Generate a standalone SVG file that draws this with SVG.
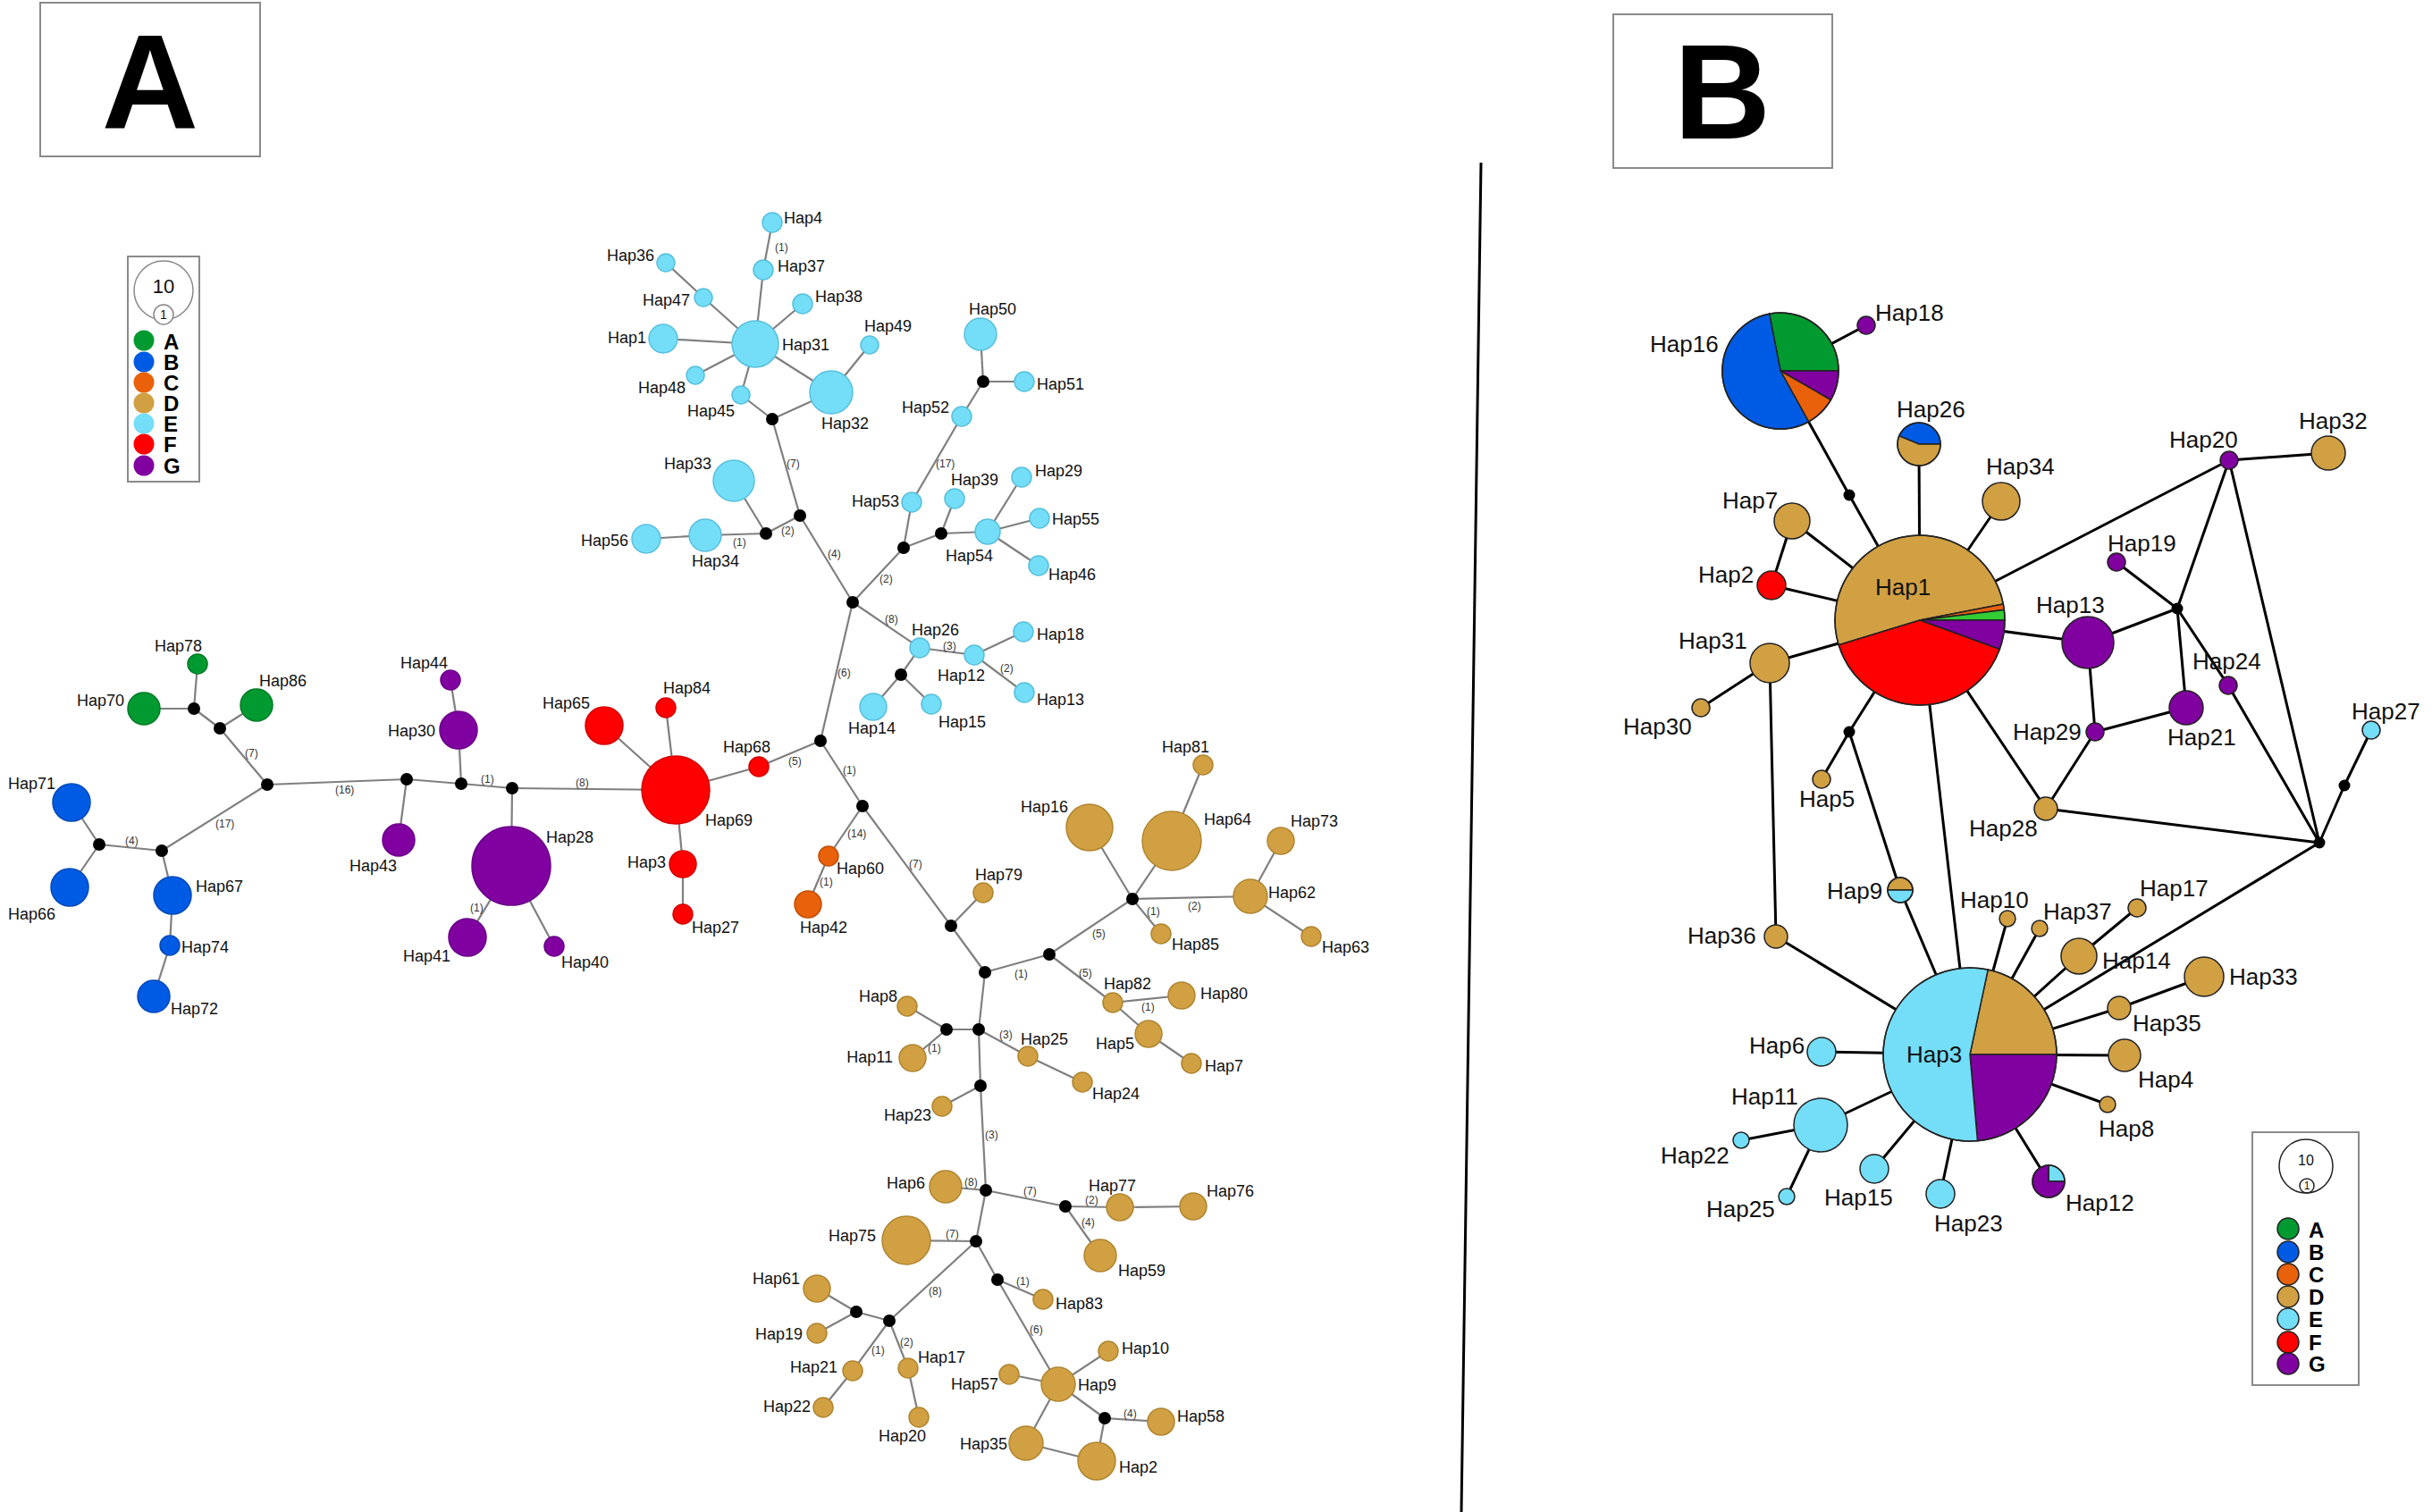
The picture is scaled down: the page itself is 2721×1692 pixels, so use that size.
<svg xmlns="http://www.w3.org/2000/svg" width="2721" height="1692" viewBox="0 0 2721 1692">
<style>
.e line{stroke:#7f7f7f;stroke-width:2.2}
.eb line{stroke:#000;stroke-width:3}
.A{fill:#009A30;stroke:#007a26;stroke-width:1.5}
.B{fill:#005BE4;stroke:#0049b8;stroke-width:1.5}
.C{fill:#E9610A;stroke:#c04e05;stroke-width:1.5}
.D{fill:#D1A043;stroke:#b08530;stroke-width:1.5}
.E{fill:#74DEF9;stroke:#58bfdc;stroke-width:1.5}
.F{fill:#FF0000;stroke:#d40000;stroke-width:1.5}
.G{fill:#8000A0;stroke:#6a0088;stroke-width:1.5}
.J{fill:#000}
.pb circle,.pb path{stroke:#222;stroke-width:1.5}
.pb circle.J{stroke:none}
.ol{fill:none}
text{font-family:"Liberation Sans",Arial,sans-serif;fill:#111;dominant-baseline:central}
.l{font-size:18px}
.lb{font-size:26px}
.m{font-size:12px;fill:#333}
.end{text-anchor:end}
.big{font-size:150px;font-weight:bold;text-anchor:middle;dominant-baseline:auto;fill:#000}
.leg{font-size:24px;font-weight:bold;fill:#000}
.box{fill:#fff;stroke:#8a8a8a;stroke-width:2}
</style>
<rect width="2721" height="1692" fill="#fff"/>

<g id="title-a"><rect class="box" x="45" y="3" width="246" height="172"/><text class="big" x="168" y="143">A</text></g>
<g id="title-b"><rect class="box" x="1805" y="16" width="245" height="172"/><text class="big" x="1927" y="155">B</text></g>
<line id="divider" x1="1657" y1="182" x2="1635" y2="1692" stroke="#000" stroke-width="3"/>

<g id="legend-a">
<rect class="box" x="143" y="287" width="80" height="252"/>
<circle cx="183" cy="325" r="33" fill="none" stroke="#888" stroke-width="1.5"/>
<text x="183" y="320" style="font-size:22px;text-anchor:middle">10</text>
<circle cx="183" cy="352" r="11" fill="#fff" stroke="#888" stroke-width="1.5"/>
<text x="183" y="352" style="font-size:14px;text-anchor:middle">1</text>
<circle cx="161" cy="381" r="11.5" fill="#009A30"/><text class="leg" x="183" y="382">A</text>
<circle cx="161" cy="405" r="11.5" fill="#005BE4"/><text class="leg" x="183" y="405">B</text>
<circle cx="161" cy="428" r="11.5" fill="#E9610A"/><text class="leg" x="183" y="428">C</text>
<circle cx="161" cy="451" r="11.5" fill="#D1A043"/><text class="leg" x="183" y="451">D</text>
<circle cx="161" cy="474" r="11.5" fill="#74DEF9"/><text class="leg" x="183" y="474">E</text>
<circle cx="161" cy="497" r="11.5" fill="#FF0000"/><text class="leg" x="183" y="497">F</text>
<circle cx="161" cy="521" r="11.5" fill="#8000A0"/><text class="leg" x="183" y="521">G</text>
</g>

<g id="legend-b" class="pb">
<rect class="box" x="2520" y="1267" width="119" height="283"/>
<circle class="ol" cx="2580" cy="1305" r="30"/>
<text x="2580" y="1298" style="font-size:16px;text-anchor:middle">10</text>
<circle class="ol" cx="2581" cy="1327" r="8"/>
<text x="2581" y="1327" style="font-size:12px;text-anchor:middle">1</text>
<circle cx="2560" cy="1375" r="12" fill="#009A30"/><text class="leg" x="2583" y="1376">A</text>
<circle cx="2560" cy="1401" r="12" fill="#005BE4"/><text class="leg" x="2583" y="1401">B</text>
<circle cx="2560" cy="1426" r="12" fill="#E9610A"/><text class="leg" x="2583" y="1426">C</text>
<circle cx="2560" cy="1451" r="12" fill="#D1A043"/><text class="leg" x="2583" y="1451">D</text>
<circle cx="2560" cy="1476" r="12" fill="#74DEF9"/><text class="leg" x="2583" y="1476">E</text>
<circle cx="2560" cy="1502" r="12" fill="#FF0000"/><text class="leg" x="2583" y="1502">F</text>
<circle cx="2560" cy="1526" r="12" fill="#8000A0"/><text class="leg" x="2583" y="1526">G</text>
</g>

<g id="connectors">
<g class="e">
<line x1="864" y1="249" x2="854" y2="302"/><line x1="854" y1="302" x2="845" y2="385"/>
<line x1="745" y1="294" x2="787" y2="333"/><line x1="787" y1="333" x2="845" y2="385"/>
<line x1="898" y1="340" x2="845" y2="385"/><line x1="742" y1="379" x2="845" y2="385"/>
<line x1="778" y1="420" x2="845" y2="385"/><line x1="829" y1="442" x2="845" y2="385"/>
<line x1="845" y1="385" x2="930" y2="439"/><line x1="829" y1="442" x2="864" y2="469"/>
<line x1="864" y1="469" x2="930" y2="439"/><line x1="930" y1="439" x2="973" y2="386"/>
<line x1="864" y1="469" x2="895" y2="577"/><line x1="895" y1="577" x2="857" y2="597"/>
<line x1="857" y1="597" x2="821" y2="538"/><line x1="857" y1="597" x2="789" y2="599"/>
<line x1="789" y1="599" x2="723" y2="603"/><line x1="895" y1="577" x2="954" y2="674"/>
<line x1="954" y1="674" x2="1011" y2="613"/><line x1="1011" y1="613" x2="1020" y2="562"/>
<line x1="1020" y1="562" x2="1076" y2="466"/><line x1="1076" y1="466" x2="1100" y2="427"/>
<line x1="1100" y1="427" x2="1097" y2="374"/><line x1="1100" y1="427" x2="1146" y2="427"/>
<line x1="1011" y1="613" x2="1053" y2="597"/><line x1="1053" y1="597" x2="1068" y2="558"/>
<line x1="1053" y1="597" x2="1105" y2="595"/><line x1="1105" y1="595" x2="1143" y2="534"/>
<line x1="1105" y1="595" x2="1163" y2="580"/><line x1="1105" y1="595" x2="1162" y2="633"/>
<line x1="954" y1="674" x2="1029" y2="725"/><line x1="1029" y1="725" x2="1090" y2="733"/>
<line x1="1029" y1="725" x2="1008" y2="755"/><line x1="1008" y1="755" x2="977" y2="791"/>
<line x1="1008" y1="755" x2="1042" y2="788"/><line x1="1090" y1="733" x2="1145" y2="707"/>
<line x1="1090" y1="733" x2="1146" y2="775"/><line x1="954" y1="674" x2="918" y2="829"/>
<line x1="918" y1="829" x2="849" y2="858"/><line x1="849" y1="858" x2="756" y2="884"/>
<line x1="676" y1="812" x2="756" y2="884"/><line x1="745" y1="792" x2="756" y2="884"/>
<line x1="756" y1="884" x2="764" y2="967"/><line x1="764" y1="967" x2="764" y2="1023"/>
<line x1="573" y1="882" x2="756" y2="884"/><line x1="573" y1="882" x2="572" y2="969"/>
<line x1="572" y1="969" x2="523" y2="1049"/><line x1="572" y1="969" x2="620" y2="1059"/>
<line x1="516" y1="877" x2="573" y2="882"/><line x1="516" y1="877" x2="513" y2="817"/>
<line x1="513" y1="817" x2="504" y2="761"/><line x1="455" y1="872" x2="516" y2="877"/>
<line x1="455" y1="872" x2="446" y2="940"/><line x1="299" y1="878" x2="455" y2="872"/>
<line x1="299" y1="878" x2="246" y2="815"/><line x1="246" y1="815" x2="217" y2="793"/>
<line x1="246" y1="815" x2="287" y2="789"/><line x1="217" y1="793" x2="221" y2="743"/>
<line x1="217" y1="793" x2="161" y2="793"/><line x1="299" y1="878" x2="181" y2="952"/>
<line x1="181" y1="952" x2="111" y2="945"/><line x1="111" y1="945" x2="80" y2="898"/>
<line x1="111" y1="945" x2="78" y2="993"/><line x1="181" y1="952" x2="193" y2="1002"/>
<line x1="193" y1="1002" x2="190" y2="1058"/><line x1="190" y1="1058" x2="172" y2="1115"/>
<line x1="918" y1="829" x2="965" y2="902"/><line x1="965" y1="902" x2="927" y2="958"/>
<line x1="927" y1="958" x2="904" y2="1012"/><line x1="965" y1="902" x2="1064" y2="1036"/>
<line x1="1064" y1="1036" x2="1100" y2="999"/><line x1="1064" y1="1036" x2="1102" y2="1088"/>
<line x1="1102" y1="1088" x2="1174" y2="1068"/><line x1="1174" y1="1068" x2="1267" y2="1006"/>
<line x1="1267" y1="1006" x2="1219" y2="926"/><line x1="1267" y1="1006" x2="1311" y2="941"/>
<line x1="1311" y1="941" x2="1346" y2="856"/><line x1="1267" y1="1006" x2="1399" y2="1003"/>
<line x1="1399" y1="1003" x2="1433" y2="941"/><line x1="1399" y1="1003" x2="1467" y2="1048"/>
<line x1="1267" y1="1006" x2="1299" y2="1045"/><line x1="1174" y1="1068" x2="1245" y2="1122"/>
<line x1="1245" y1="1122" x2="1322" y2="1114"/><line x1="1245" y1="1122" x2="1285" y2="1157"/>
<line x1="1285" y1="1157" x2="1333" y2="1190"/><line x1="1102" y1="1088" x2="1095" y2="1152"/>
<line x1="1095" y1="1152" x2="1059" y2="1152"/><line x1="1059" y1="1152" x2="1015" y2="1126"/>
<line x1="1059" y1="1152" x2="1021" y2="1184"/><line x1="1095" y1="1152" x2="1150" y2="1182"/>
<line x1="1150" y1="1182" x2="1211" y2="1211"/><line x1="1095" y1="1152" x2="1097" y2="1215"/>
<line x1="1097" y1="1215" x2="1054" y2="1238"/><line x1="1097" y1="1215" x2="1103" y2="1332"/>
<line x1="1103" y1="1332" x2="1058" y2="1328"/><line x1="1103" y1="1332" x2="1192" y2="1350"/>
<line x1="1192" y1="1350" x2="1253" y2="1351"/><line x1="1253" y1="1351" x2="1335" y2="1350"/>
<line x1="1192" y1="1350" x2="1231" y2="1405"/><line x1="1103" y1="1332" x2="1092" y2="1389"/>
<line x1="1092" y1="1389" x2="1014" y2="1388"/><line x1="1092" y1="1389" x2="995" y2="1478"/>
<line x1="995" y1="1478" x2="958" y2="1468"/><line x1="958" y1="1468" x2="914" y2="1442"/>
<line x1="958" y1="1468" x2="914" y2="1492"/><line x1="995" y1="1478" x2="954" y2="1534"/>
<line x1="954" y1="1534" x2="921" y2="1575"/><line x1="995" y1="1478" x2="1016" y2="1531"/>
<line x1="1016" y1="1531" x2="1028" y2="1586"/><line x1="1092" y1="1389" x2="1116" y2="1432"/>
<line x1="1116" y1="1432" x2="1167" y2="1454"/><line x1="1116" y1="1432" x2="1184" y2="1549"/>
<line x1="1184" y1="1549" x2="1240" y2="1512"/><line x1="1184" y1="1549" x2="1129" y2="1538"/>
<line x1="1184" y1="1549" x2="1148" y2="1615"/><line x1="1184" y1="1549" x2="1236" y2="1587"/>
<line x1="1236" y1="1587" x2="1299" y2="1591"/><line x1="1236" y1="1587" x2="1227" y2="1635"/>
<line x1="1148" y1="1615" x2="1227" y2="1635"/>
</g>
<g class="eb">
<line x1="1992" y1="415" x2="2088" y2="364"/><line x1="1992" y1="415" x2="2069" y2="554"/>
<line x1="2069" y1="554" x2="2148" y2="694"/><line x1="2147" y1="497" x2="2148" y2="694"/>
<line x1="2239" y1="561" x2="2148" y2="694"/><line x1="2005" y1="583" x2="2148" y2="694"/>
<line x1="2005" y1="583" x2="1982" y2="655"/><line x1="1982" y1="655" x2="2148" y2="694"/>
<line x1="2148" y1="694" x2="2494" y2="515"/><line x1="2148" y1="694" x2="2336" y2="719"/>
<line x1="1980" y1="742" x2="2148" y2="694"/><line x1="1980" y1="742" x2="1903" y2="792"/>
<line x1="1980" y1="742" x2="1987" y2="1048"/><line x1="2148" y1="694" x2="2069" y2="819"/>
<line x1="2069" y1="819" x2="2038" y2="872"/><line x1="2069" y1="819" x2="2126" y2="996"/>
<line x1="2126" y1="996" x2="2204" y2="1180"/><line x1="2148" y1="694" x2="2204" y2="1180"/>
<line x1="2148" y1="694" x2="2289" y2="905"/><line x1="2289" y1="905" x2="2344" y2="819"/>
<line x1="2344" y1="819" x2="2336" y2="719"/><line x1="2344" y1="819" x2="2446" y2="792"/>
<line x1="2289" y1="905" x2="2595" y2="943"/><line x1="2336" y1="719" x2="2436" y2="681"/>
<line x1="2436" y1="681" x2="2368" y2="629"/><line x1="2436" y1="681" x2="2494" y2="515"/>
<line x1="2436" y1="681" x2="2446" y2="792"/><line x1="2436" y1="681" x2="2493" y2="767"/>
<line x1="2493" y1="767" x2="2595" y2="943"/><line x1="2494" y1="515" x2="2595" y2="943"/>
<line x1="2494" y1="515" x2="2605" y2="507"/><line x1="2595" y1="943" x2="2623" y2="879"/>
<line x1="2623" y1="879" x2="2653" y2="817"/><line x1="2595" y1="943" x2="2204" y2="1180"/>
<line x1="1987" y1="1048" x2="2204" y2="1180"/><line x1="2246" y1="1028" x2="2204" y2="1180"/>
<line x1="2282" y1="1039" x2="2204" y2="1180"/><line x1="2391" y1="1016" x2="2326" y2="1070"/>
<line x1="2326" y1="1070" x2="2204" y2="1180"/><line x1="2466" y1="1093" x2="2371" y2="1128"/>
<line x1="2371" y1="1128" x2="2204" y2="1180"/><line x1="2377" y1="1181" x2="2204" y2="1180"/>
<line x1="2358" y1="1236" x2="2204" y2="1180"/><line x1="2292" y1="1322" x2="2204" y2="1180"/>
<line x1="2171" y1="1336" x2="2204" y2="1180"/><line x1="2097" y1="1308" x2="2204" y2="1180"/>
<line x1="2037" y1="1259" x2="2204" y2="1180"/><line x1="2037" y1="1259" x2="1948" y2="1276"/>
<line x1="2037" y1="1259" x2="1999" y2="1339"/><line x1="2038" y1="1177" x2="2204" y2="1180"/>
</g>
<g id="mutations">
<text class="m" x="867" y="277">(1)</text><text class="m" x="880" y="519">(7)</text>
<text class="m" x="874" y="594">(2)</text><text class="m" x="820" y="607">(1)</text>
<text class="m" x="926" y="620">(4)</text><text class="m" x="1047" y="519">(17)</text>
<text class="m" x="984" y="648">(2)</text><text class="m" x="990" y="693">(8)</text>
<text class="m" x="1055" y="723">(3)</text><text class="m" x="1119" y="748">(2)</text>
<text class="m" x="937" y="753">(6)</text><text class="m" x="882" y="852">(5)</text>
<text class="m" x="943" y="862">(1)</text><text class="m" x="948" y="933">(14)</text>
<text class="m" x="917" y="987">(1)</text><text class="m" x="1017" y="967">(7)</text>
<text class="m" x="1329" y="1014">(2)</text><text class="m" x="1283" y="1020">(1)</text>
<text class="m" x="1222" y="1045">(5)</text><text class="m" x="1135" y="1090">(1)</text>
<text class="m" x="1207" y="1089">(5)</text><text class="m" x="1277" y="1127">(1)</text>
<text class="m" x="1038" y="1173">(1)</text><text class="m" x="1118" y="1158">(3)</text>
<text class="m" x="1102" y="1270">(3)</text><text class="m" x="1079" y="1323">(8)</text>
<text class="m" x="1145" y="1333">(7)</text><text class="m" x="1214" y="1343">(2)</text>
<text class="m" x="1210" y="1368">(4)</text><text class="m" x="1058" y="1381">(7)</text>
<text class="m" x="1039" y="1445">(8)</text><text class="m" x="975" y="1511">(1)</text>
<text class="m" x="1007" y="1502">(2)</text><text class="m" x="1137" y="1434">(1)</text>
<text class="m" x="1152" y="1488">(6)</text><text class="m" x="1257" y="1582">(4)</text>
<text class="m" x="274" y="843">(7)</text><text class="m" x="375" y="884">(16)</text>
<text class="m" x="538" y="872">(1)</text><text class="m" x="644" y="876">(8)</text>
<text class="m" x="241" y="922">(17)</text><text class="m" x="140" y="941">(4)</text>
<text class="m" x="526" y="1016">(1)</text>
</g>
</g>

<g id="panel-a-nodes">
<g id="a-hap4"><circle class="E" cx="864" cy="249" r="11"/><text class="l" x="877" y="244">Hap4</text></g>
<g id="a-hap37"><circle class="E" cx="854" cy="302" r="11"/><text class="l" x="870" y="298">Hap37</text></g>
<g id="a-hap36"><circle class="E" cx="745" cy="294" r="10"/><text class="l end" x="732" y="286">Hap36</text></g>
<g id="a-hap47"><circle class="E" cx="787" cy="333" r="10"/><text class="l end" x="772" y="336">Hap47</text></g>
<g id="a-hap38"><circle class="E" cx="898" cy="340" r="11"/><text class="l" x="912" y="332">Hap38</text></g>
<g id="a-hap31"><circle class="E" cx="845" cy="385" r="26"/><text class="l" x="875" y="386">Hap31</text></g>
<g id="a-hap1"><circle class="E" cx="742" cy="379" r="16"/><text class="l end" x="723" y="378">Hap1</text></g>
<g id="a-hap49"><circle class="E" cx="973" cy="386" r="10"/><text class="l" x="967" y="365">Hap49</text></g>
<g id="a-hap48"><circle class="E" cx="778" cy="420" r="10"/><text class="l" x="714" y="434">Hap48</text></g>
<g id="a-hap45"><circle class="E" cx="829" cy="442" r="10"/><text class="l" x="769" y="460">Hap45</text></g>
<g id="a-hap32"><circle class="E" cx="930" cy="439" r="24"/><text class="l" x="919" y="474">Hap32</text></g>
<g id="a-hap50"><circle class="E" cx="1097" cy="374" r="18"/><text class="l" x="1084" y="346">Hap50</text></g>
<g id="a-hap51"><circle class="E" cx="1146" cy="427" r="11"/><text class="l" x="1160" y="430">Hap51</text></g>
<g id="a-hap52"><circle class="E" cx="1076" cy="466" r="11"/><text class="l end" x="1062" y="456">Hap52</text></g>
<g id="a-hap53"><circle class="E" cx="1020" cy="562" r="11"/><text class="l end" x="1006" y="561">Hap53</text></g>
<g id="a-hap39"><circle class="E" cx="1068" cy="558" r="11"/><text class="l" x="1064" y="537">Hap39</text></g>
<g id="a-hap29"><circle class="E" cx="1143" cy="534" r="11"/><text class="l" x="1158" y="527">Hap29</text></g>
<g id="a-hap55"><circle class="E" cx="1163" cy="580" r="11"/><text class="l" x="1177" y="581">Hap55</text></g>
<g id="a-hap54"><circle class="E" cx="1105" cy="595" r="14"/><text class="l" x="1058" y="622">Hap54</text></g>
<g id="a-hap46"><circle class="E" cx="1162" cy="633" r="11"/><text class="l" x="1173" y="643">Hap46</text></g>
<g id="a-hap33"><circle class="E" cx="821" cy="538" r="23"/><text class="l" x="743" y="519">Hap33</text></g>
<g id="a-hap56"><circle class="E" cx="723" cy="603" r="16"/><text class="l end" x="703" y="605">Hap56</text></g>
<g id="a-hap34"><circle class="E" cx="789" cy="599" r="18"/><text class="l" x="774" y="628">Hap34</text></g>
<g id="a-hap26"><circle class="E" cx="1029" cy="725" r="11"/><text class="l" x="1020" y="705">Hap26</text></g>
<g id="a-hap12"><circle class="E" cx="1090" cy="733" r="11"/><text class="l" x="1049" y="756">Hap12</text></g>
<g id="a-hap18"><circle class="E" cx="1145" cy="707" r="11"/><text class="l" x="1160" y="710">Hap18</text></g>
<g id="a-hap13"><circle class="E" cx="1146" cy="775" r="11"/><text class="l" x="1160" y="783">Hap13</text></g>
<g id="a-hap14"><circle class="E" cx="977" cy="791" r="15"/><text class="l" x="949" y="815">Hap14</text></g>
<g id="a-hap15"><circle class="E" cx="1042" cy="788" r="11"/><text class="l" x="1050" y="808">Hap15</text></g>
<g id="a-hap68"><circle class="F" cx="849" cy="858" r="11"/><text class="l" x="809" y="836">Hap68</text></g>
<g id="a-hap69"><circle class="F" cx="756" cy="884" r="38"/><text class="l" x="789" y="918">Hap69</text></g>
<g id="a-hap65"><circle class="F" cx="676" cy="812" r="21"/><text class="l end" x="660" y="787">Hap65</text></g>
<g id="a-hap84"><circle class="F" cx="745" cy="792" r="11"/><text class="l" x="742" y="770">Hap84</text></g>
<g id="a-hap3"><circle class="F" cx="764" cy="967" r="15"/><text class="l end" x="745" y="965">Hap3</text></g>
<g id="a-hap27"><circle class="F" cx="764" cy="1023" r="11"/><text class="l" x="774" y="1038">Hap27</text></g>
<g id="a-hap60"><circle class="C" cx="927" cy="958" r="11"/><text class="l" x="936" y="972">Hap60</text></g>
<g id="a-hap42"><circle class="C" cx="904" cy="1012" r="15"/><text class="l" x="895" y="1038">Hap42</text></g>
<g id="a-hap78"><circle class="A" cx="221" cy="743" r="11"/><text class="l" x="173" y="723">Hap78</text></g>
<g id="a-hap70"><circle class="A" cx="161" cy="793" r="18"/><text class="l end" x="139" y="784">Hap70</text></g>
<g id="a-hap86"><circle class="A" cx="287" cy="789" r="18"/><text class="l" x="290" y="762">Hap86</text></g>
<g id="a-hap43"><circle class="G" cx="446" cy="940" r="18"/><text class="l" x="391" y="969">Hap43</text></g>
<g id="a-hap30"><circle class="G" cx="513" cy="817" r="21"/><text class="l end" x="487" y="818">Hap30</text></g>
<g id="a-hap44"><circle class="G" cx="504" cy="761" r="11"/><text class="l" x="448" y="742">Hap44</text></g>
<g id="a-hap28"><circle class="G" cx="572" cy="969" r="44"/><text class="l" x="611" y="937">Hap28</text></g>
<g id="a-hap41"><circle class="G" cx="523" cy="1049" r="21"/><text class="l end" x="504" y="1070">Hap41</text></g>
<g id="a-hap40"><circle class="G" cx="620" cy="1059" r="11"/><text class="l" x="628" y="1077">Hap40</text></g>
<g id="a-hap71"><circle class="B" cx="80" cy="898" r="21"/><text class="l" x="9" y="877">Hap71</text></g>
<g id="a-hap66"><circle class="B" cx="78" cy="993" r="21"/><text class="l" x="9" y="1023">Hap66</text></g>
<g id="a-hap67"><circle class="B" cx="193" cy="1002" r="21"/><text class="l" x="219" y="992">Hap67</text></g>
<g id="a-hap74"><circle class="B" cx="190" cy="1058" r="11"/><text class="l" x="203" y="1060">Hap74</text></g>
<g id="a-hap72"><circle class="B" cx="172" cy="1115" r="18"/><text class="l" x="191" y="1129">Hap72</text></g>
<g id="a-hap79"><circle class="D" cx="1100" cy="999" r="11"/><text class="l" x="1091" y="979">Hap79</text></g>
<g id="a-hap81"><circle class="D" cx="1346" cy="856" r="11"/><text class="l" x="1300" y="836">Hap81</text></g>
<g id="a-hap16"><circle class="D" cx="1219" cy="926" r="26"/><text class="l" x="1142" y="903">Hap16</text></g>
<g id="a-hap64"><circle class="D" cx="1311" cy="941" r="33"/><text class="l" x="1347" y="917">Hap64</text></g>
<g id="a-hap73"><circle class="D" cx="1433" cy="941" r="15"/><text class="l" x="1444" y="919">Hap73</text></g>
<g id="a-hap62"><circle class="D" cx="1399" cy="1003" r="19"/><text class="l" x="1419" y="999">Hap62</text></g>
<g id="a-hap85"><circle class="D" cx="1299" cy="1045" r="11"/><text class="l" x="1311" y="1057">Hap85</text></g>
<g id="a-hap63"><circle class="D" cx="1467" cy="1048" r="11"/><text class="l" x="1479" y="1060">Hap63</text></g>
<g id="a-hap82"><circle class="D" cx="1245" cy="1122" r="11"/><text class="l" x="1235" y="1101">Hap82</text></g>
<g id="a-hap80"><circle class="D" cx="1322" cy="1114" r="15"/><text class="l" x="1343" y="1112">Hap80</text></g>
<g id="a-hap5"><circle class="D" cx="1285" cy="1157" r="15"/><text class="l" x="1226" y="1168">Hap5</text></g>
<g id="a-hap7"><circle class="D" cx="1333" cy="1190" r="11"/><text class="l" x="1348" y="1193">Hap7</text></g>
<g id="a-hap8"><circle class="D" cx="1015" cy="1126" r="11"/><text class="l" x="961" y="1115">Hap8</text></g>
<g id="a-hap11"><circle class="D" cx="1021" cy="1184" r="15"/><text class="l end" x="999" y="1183">Hap11</text></g>
<g id="a-hap25"><circle class="D" cx="1150" cy="1182" r="11"/><text class="l" x="1142" y="1163">Hap25</text></g>
<g id="a-hap24"><circle class="D" cx="1211" cy="1211" r="11"/><text class="l" x="1222" y="1224">Hap24</text></g>
<g id="a-hap23"><circle class="D" cx="1054" cy="1238" r="11"/><text class="l end" x="1042" y="1248">Hap23</text></g>
<g id="a-hap6"><circle class="D" cx="1058" cy="1328" r="18"/><text class="l end" x="1035" y="1324">Hap6</text></g>
<g id="a-hap77"><circle class="D" cx="1253" cy="1351" r="15"/><text class="l" x="1218" y="1327">Hap77</text></g>
<g id="a-hap76"><circle class="D" cx="1335" cy="1350" r="15"/><text class="l" x="1350" y="1333">Hap76</text></g>
<g id="a-hap59"><circle class="D" cx="1231" cy="1405" r="18"/><text class="l" x="1251" y="1422">Hap59</text></g>
<g id="a-hap75"><circle class="D" cx="1014" cy="1388" r="27"/><text class="l end" x="980" y="1383">Hap75</text></g>
<g id="a-hap61"><circle class="D" cx="914" cy="1442" r="15"/><text class="l end" x="895" y="1431">Hap61</text></g>
<g id="a-hap19"><circle class="D" cx="914" cy="1492" r="11"/><text class="l end" x="898" y="1493">Hap19</text></g>
<g id="a-hap21"><circle class="D" cx="954" cy="1534" r="11"/><text class="l end" x="937" y="1530">Hap21</text></g>
<g id="a-hap17"><circle class="D" cx="1016" cy="1531" r="11"/><text class="l" x="1027" y="1519">Hap17</text></g>
<g id="a-hap22"><circle class="D" cx="921" cy="1575" r="11"/><text class="l end" x="907" y="1574">Hap22</text></g>
<g id="a-hap20"><circle class="D" cx="1028" cy="1586" r="11"/><text class="l" x="983" y="1607">Hap20</text></g>
<g id="a-hap83"><circle class="D" cx="1167" cy="1454" r="11"/><text class="l" x="1181" y="1459">Hap83</text></g>
<g id="a-hap9"><circle class="D" cx="1184" cy="1549" r="19"/><text class="l" x="1206" y="1550">Hap9</text></g>
<g id="a-hap10"><circle class="D" cx="1240" cy="1512" r="11"/><text class="l" x="1255" y="1509">Hap10</text></g>
<g id="a-hap57"><circle class="D" cx="1129" cy="1538" r="11"/><text class="l end" x="1117" y="1549">Hap57</text></g>
<g id="a-hap58"><circle class="D" cx="1299" cy="1591" r="15"/><text class="l" x="1317" y="1585">Hap58</text></g>
<g id="a-hap35"><circle class="D" cx="1148" cy="1615" r="19"/><text class="l end" x="1127" y="1616">Hap35</text></g>
<g id="a-hap2"><circle class="D" cx="1227" cy="1635" r="21"/><text class="l" x="1252" y="1642">Hap2</text></g>
<g id="a-median-vectors">
<circle class="J" cx="864" cy="469" r="7"/><circle class="J" cx="1100" cy="427" r="7"/>
<circle class="J" cx="1053" cy="597" r="7"/><circle class="J" cx="1011" cy="613" r="7"/>
<circle class="J" cx="857" cy="597" r="7"/><circle class="J" cx="895" cy="577" r="7"/>
<circle class="J" cx="954" cy="674" r="7"/><circle class="J" cx="1008" cy="755" r="7"/>
<circle class="J" cx="918" cy="829" r="7"/><circle class="J" cx="965" cy="902" r="7"/>
<circle class="J" cx="217" cy="793" r="7"/><circle class="J" cx="246" cy="815" r="7"/>
<circle class="J" cx="299" cy="878" r="7"/><circle class="J" cx="455" cy="872" r="7"/>
<circle class="J" cx="516" cy="877" r="7"/><circle class="J" cx="573" cy="882" r="7"/>
<circle class="J" cx="111" cy="945" r="7"/><circle class="J" cx="181" cy="952" r="7"/>
<circle class="J" cx="1064" cy="1036" r="7"/><circle class="J" cx="1267" cy="1006" r="7"/>
<circle class="J" cx="1174" cy="1068" r="7"/><circle class="J" cx="1102" cy="1088" r="7"/>
<circle class="J" cx="1059" cy="1152" r="7"/><circle class="J" cx="1095" cy="1152" r="7"/>
<circle class="J" cx="1097" cy="1215" r="7"/><circle class="J" cx="1103" cy="1332" r="7"/>
<circle class="J" cx="1192" cy="1350" r="7"/><circle class="J" cx="1092" cy="1389" r="7"/>
<circle class="J" cx="958" cy="1468" r="7"/><circle class="J" cx="995" cy="1478" r="7"/>
<circle class="J" cx="1116" cy="1432" r="7"/><circle class="J" cx="1236" cy="1587" r="7"/>
</g>
</g>

<g id="panel-b-nodes" class="pb">
<g id="b-hap16">
<path d="M1992,415 L1979.6,351.2 A65,65 0 0 1 2057,415 Z" fill="#009A30"/>
<path d="M1992,415 L2057,415 A65,65 0 0 1 2048.3,447.5 Z" fill="#8000A0"/>
<path d="M1992,415 L2048.3,447.5 A65,65 0 0 1 2023.5,471.8 Z" fill="#E9610A"/>
<path d="M1992,415 L2023.5,471.8 A65,65 0 1 1 1979.6,351.2 Z" fill="#005BE4"/>
<circle class="ol" cx="1992" cy="415" r="65"/>
<text class="lb" x="1846" y="385">Hap16</text></g>
<g id="b-hap18"><circle class="G" cx="2088" cy="364" r="10"/><text class="lb" x="2098" y="350">Hap18</text></g>
<g id="b-hap26">
<path d="M2147,497 L2124.8,487.9 A24,24 0 0 1 2171,497 Z" fill="#005BE4"/>
<path d="M2147,497 L2171,497 A24,24 0 1 1 2124.8,487.9 Z" fill="#D1A043"/>
<circle class="ol" cx="2147" cy="497" r="24"/>
<text class="lb" x="2122" y="458">Hap26</text></g>
<g id="b-hap34"><circle class="D" cx="2239" cy="561" r="21"/><text class="lb" x="2222" y="522">Hap34</text></g>
<g id="b-hap7"><circle class="D" cx="2005" cy="583" r="20"/><text class="lb" x="1927" y="560">Hap7</text></g>
<g id="b-hap2"><circle class="F" cx="1982" cy="655" r="16"/><text class="lb" x="1900" y="643">Hap2</text></g>
<g id="b-hap1">
<path d="M2148,694 L2057.2,721.8 A95,95 0 1 1 2241.3,675.9 Z" fill="#D1A043"/>
<path d="M2148,694 L2241.3,675.9 A95,95 0 0 1 2242.3,682.4 Z" fill="#E9610A"/>
<path d="M2148,694 L2242.3,682.4 A95,95 0 0 1 2243,694 Z" fill="#33CC33"/>
<path d="M2148,694 L2243,694 A95,95 0 0 1 2237.3,726.5 Z" fill="#8000A0"/>
<path d="M2148,694 L2237.3,726.5 A95,95 0 0 1 2057.2,721.8 Z" fill="#FF0000"/>
<circle class="ol" cx="2148" cy="694" r="95"/>
<text class="lb" x="2098" y="657">Hap1</text></g>
<g id="b-hap20"><circle class="G" cx="2494" cy="515" r="10"/><text class="lb" x="2427" y="492">Hap20</text></g>
<g id="b-hap32"><circle class="D" cx="2605" cy="507" r="19"/><text class="lb" x="2572" y="471">Hap32</text></g>
<g id="b-hap19"><circle class="G" cx="2368" cy="629" r="10"/><text class="lb" x="2358" y="608">Hap19</text></g>
<g id="b-hap13"><circle class="G" cx="2336" cy="719" r="29"/><text class="lb" x="2278" y="677">Hap13</text></g>
<g id="b-hap24"><circle class="G" cx="2493" cy="767" r="10"/><text class="lb" x="2453" y="740">Hap24</text></g>
<g id="b-hap21"><circle class="G" cx="2446" cy="792" r="19"/><text class="lb" x="2425" y="825">Hap21</text></g>
<g id="b-hap29"><circle class="G" cx="2344" cy="819" r="10"/><text class="lb" x="2252" y="819">Hap29</text></g>
<g id="b-hap31"><circle class="D" cx="1980" cy="742" r="22"/><text class="lb" x="1878" y="717">Hap31</text></g>
<g id="b-hap30"><circle class="D" cx="1903" cy="792" r="10"/><text class="lb" x="1816" y="813">Hap30</text></g>
<g id="b-hap5"><circle class="D" cx="2038" cy="872" r="10"/><text class="lb" x="2013" y="894">Hap5</text></g>
<g id="b-hap28"><circle class="D" cx="2289" cy="905" r="13"/><text class="lb" x="2203" y="927">Hap28</text></g>
<g id="b-hap27"><circle class="E" cx="2653" cy="817" r="10"/><text class="lb" x="2631" y="796">Hap27</text></g>
<g id="b-hap9">
<path d="M2112,996 A14,14 0 0 1 2140,996 Z" fill="#D1A043"/>
<path d="M2140,996 A14,14 0 0 1 2112,996 Z" fill="#74DEF9"/>
<circle class="ol" cx="2126" cy="996" r="14"/>
<text class="lb" x="2044" y="997">Hap9</text></g>
<g id="b-hap10"><circle class="D" cx="2246" cy="1028" r="9"/><text class="lb" x="2193" y="1007">Hap10</text></g>
<g id="b-hap37"><circle class="D" cx="2282" cy="1039" r="9"/><text class="lb" x="2286" y="1020">Hap37</text></g>
<g id="b-hap17"><circle class="D" cx="2391" cy="1016" r="10"/><text class="lb" x="2394" y="994">Hap17</text></g>
<g id="b-hap36"><circle class="D" cx="1987" cy="1048" r="13"/><text class="lb" x="1888" y="1047">Hap36</text></g>
<g id="b-hap14"><circle class="D" cx="2326" cy="1070" r="20"/><text class="lb" x="2352" y="1075">Hap14</text></g>
<g id="b-hap33"><circle class="D" cx="2466" cy="1093" r="22"/><text class="lb" x="2494" y="1093">Hap33</text></g>
<g id="b-hap35"><circle class="D" cx="2371" cy="1128" r="13"/><text class="lb" x="2386" y="1145">Hap35</text></g>
<g id="b-hap3">
<path d="M2204,1180 L2224.2,1085.1 A97,97 0 0 1 2301,1180 Z" fill="#D1A043"/>
<path d="M2204,1180 L2301,1180 A97,97 0 0 1 2212.5,1276.6 Z" fill="#8000A0"/>
<path d="M2204,1180 L2212.5,1276.6 A97,97 0 1 1 2224.2,1085.1 Z" fill="#74DEF9"/>
<circle class="ol" cx="2204" cy="1180" r="97"/>
<text class="lb" x="2133" y="1180">Hap3</text></g>
<g id="b-hap6"><circle class="E" cx="2038" cy="1177" r="16"/><text class="lb" x="1957" y="1170">Hap6</text></g>
<g id="b-hap4"><circle class="D" cx="2377" cy="1181" r="18"/><text class="lb" x="2392" y="1208">Hap4</text></g>
<g id="b-hap8"><circle class="D" cx="2358" cy="1236" r="9"/><text class="lb" x="2348" y="1263">Hap8</text></g>
<g id="b-hap11"><circle class="E" cx="2037" cy="1259" r="30"/><text class="lb" x="1937" y="1227">Hap11</text></g>
<g id="b-hap22"><circle class="E" cx="1948" cy="1276" r="9"/><text class="lb" x="1858" y="1293">Hap22</text></g>
<g id="b-hap25"><circle class="E" cx="1999" cy="1339" r="9"/><text class="lb" x="1909" y="1353">Hap25</text></g>
<g id="b-hap15"><circle class="E" cx="2097" cy="1308" r="16"/><text class="lb" x="2041" y="1340">Hap15</text></g>
<g id="b-hap23"><circle class="E" cx="2171" cy="1336" r="16"/><text class="lb" x="2164" y="1369">Hap23</text></g>
<g id="b-hap12">
<path d="M2292,1322 L2292,1304 A18,18 0 0 1 2310,1322 Z" fill="#74DEF9"/>
<path d="M2292,1322 L2310,1322 A18,18 0 1 1 2292,1304 Z" fill="#8000A0"/>
<circle class="ol" cx="2292" cy="1322" r="18"/>
<text class="lb" x="2311" y="1346">Hap12</text></g>
<g id="b-median-vectors">
<circle class="J" cx="2069" cy="554" r="6.5"/><circle class="J" cx="2069" cy="819" r="6.5"/>
<circle class="J" cx="2436" cy="681" r="6.5"/><circle class="J" cx="2595" cy="943" r="6.5"/>
<circle class="J" cx="2623" cy="879" r="6.5"/>
</g>
</g>
</svg>
